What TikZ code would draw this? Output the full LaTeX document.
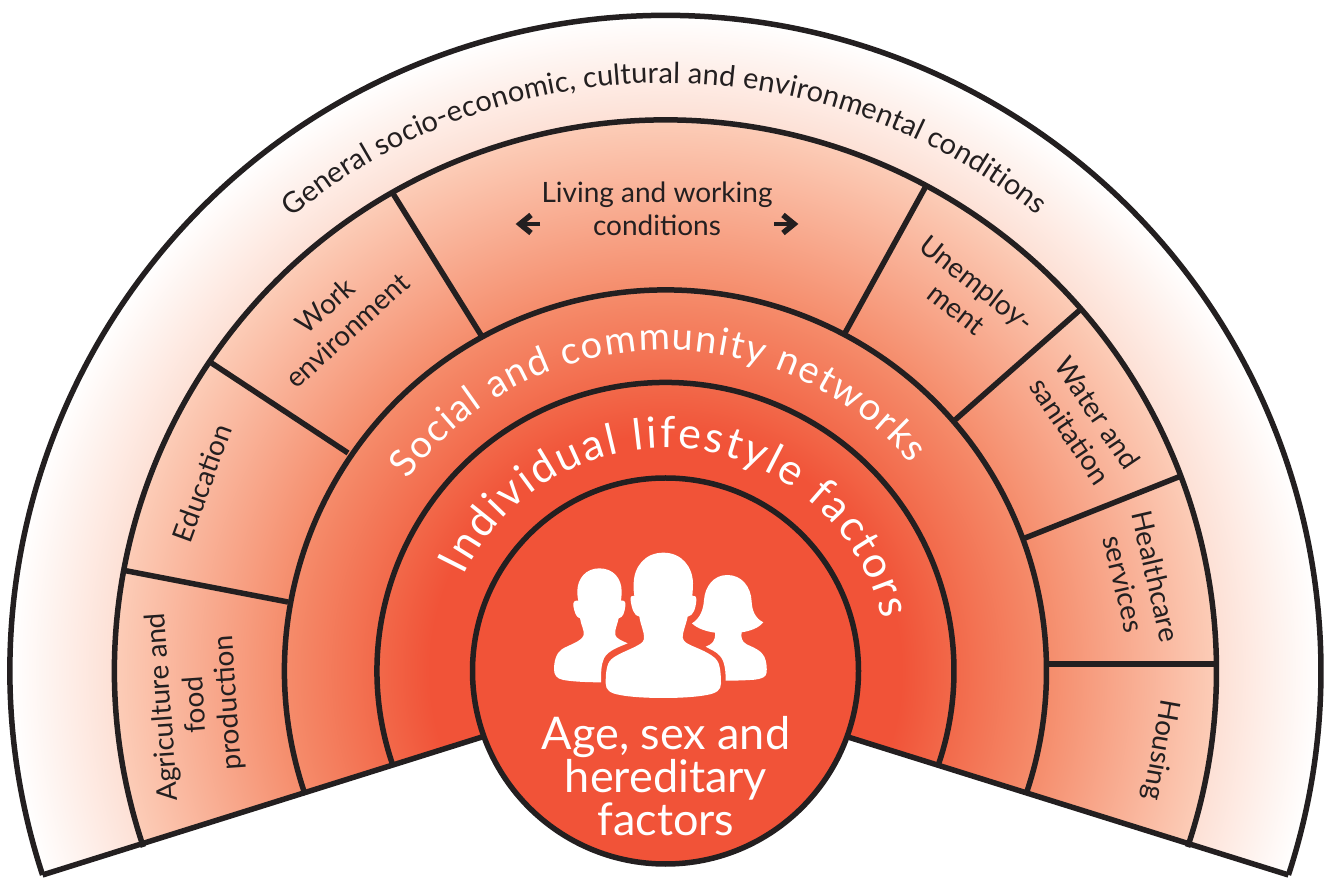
\documentclass[tikz,border=0pt]{standalone}
\usepackage{fontspec}
\setmainfont{Lato}
\usetikzlibrary{decorations.text,calc}
\definecolor{ink}{HTML}{231F20}
\definecolor{core}{HTML}{F15338}
\definecolor{fanA}{HTML}{F2694A}
\definecolor{fanB}{HTML}{F58C6B}
\definecolor{fanC}{HTML}{FCCDB8}
\definecolor{fanD}{HTML}{FDE0D5}
\pgfdeclareradialshading{fan}{\pgfpoint{0bp}{0bp}}{%
 color(0bp)=(core); color(9bp)=(core); color(11bp)=(fanA);
 color(14.52bp)=(fanB);
 color(21.02bp)=(fanC);
 color(21.04bp)=(fanD);
 color(25bp)=(white); color(50bp)=(white)}
\tikzset{
 ring/.style={draw=ink,line width=5.5pt},
 divider/.style={draw=ink,line width=5.5pt},
 cell/.style={text=ink,align=center,font=\fontsize{28}{33}\selectfont,inner sep=0pt},
 arrowshaft/.style={draw=ink,line width=4.5pt},
 arrowhead/.style={draw=ink,line width=5.5pt,miter limit=10},
 person/.style={fill=white,draw=none}
}
\begin{document}
\begin{tikzpicture}[x=1pt,y=1pt]
\useasboundingbox (0,0) rectangle (1330,878);
\coordinate (c) at (665.5,207);
% shaded fan
\begin{scope}
\clip (c) ++(198.13:655.5) arc[start angle=198.13,end angle=-18.13,radius=655.5] -- (850,141) -- (c) -- (480,140) -- cycle;
\shade[shading=fan] (c) circle (655.5);
\end{scope}
% rings
\draw[ring] (c) ++(198.13:655.5) coordinate (ll) arc[start angle=198.13,end angle=-18.13,radius=655.5] coordinate (rl);
\draw[ring] (c) ++(198.63:551) arc[start angle=198.63,end angle=-18.63,radius=551];
\draw[ring] (c) ++(198.99:381) arc[start angle=198.99,end angle=-18.99,radius=381];
\draw[ring] (c) ++(199.43:288.5) arc[start angle=199.43,end angle=-19.43,radius=288.5];
% lower edges
\coordinate (li) at (482,141);
\coordinate (ri) at (848,141);
\draw[ring] (ll) -- (li);
\draw[ring] (rl) -- (ri);
% dividers
\coordinate (d1a) at (122,308); \coordinate (d1b) at (288,276);
\coordinate (d2a) at (210,516); \coordinate (d2b) at (348,425);
\coordinate (d3a) at (392,686); \coordinate (d3b) at (481,543);
\coordinate (d4a) at (926,692); \coordinate (d4b) at (845,545);
\coordinate (d5a) at (1081,569); \coordinate (d5b) at (955,458);
\coordinate (d6a) at (1181,402); \coordinate (d6b) at (1025,340);
\coordinate (d7a) at (1047,214); \coordinate (d7b) at (1217,214);
\foreach \i in {1,...,7} \draw[divider] (d\i a) -- (d\i b);
% core
\node[circle,draw=ink,line width=5.5pt,fill=core,minimum size=386pt,inner sep=0pt] (corecircle) at (c) {};
% people
\begin{scope}[shift={(520,348)},x=0.33333pt,y=-0.33333pt]
\fill[person] (238,115) .. controls (280,115) and (305,145) .. (305,185) .. controls (305,195) and (304,205) .. (303,212) .. controls (312,210) and (318,215) .. (316,228) .. controls (314,245) and (310,263) .. (296,265) .. controls (292,285) and (283,300) .. (286,315) .. controls (288,325) and (305,332) .. (323,340) .. controls (300,350) and (265,360) .. (252,385) .. controls (243,405) and (243,430) .. (243,457) .. controls (200,457) and (160,455) .. (130,450) .. controls (110,446) and (102,435) .. (102,418) .. controls (102,395) and (108,370) .. (125,358) .. controls (145,345) and (185,335) .. (191,315) .. controls (193,300) and (183,285) .. (180,265) .. controls (168,263) and (163,245) .. (160,228) .. controls (158,215) and (165,210) .. (175,212) .. controls (172,200) and (172,190) .. (172,182) .. controls (173,145) and (198,115) .. (238,115) -- cycle;
\fill[person] (622,135) .. controls (665,135) and (693,170) .. (695,215) .. controls (696,240) and (705,265) .. (730,277) .. controls (715,295) and (690,303) .. (665,307) .. controls (662,320) and (665,335) .. (680,343) .. controls (700,352) and (725,362) .. (733,380) .. controls (740,395) and (741,415) .. (740,428) .. controls (738,442) and (725,446) .. (705,449) .. controls (680,451) and (650,452) .. (617,452) .. controls (617,425) and (615,395) .. (600,378) .. controls (590,365) and (570,358) .. (557,350) .. controls (575,343) and (587,335) .. (585,308) .. controls (560,305) and (530,295) .. (516,280) .. controls (540,265) and (550,240) .. (552,210) .. controls (555,170) and (580,135) .. (622,135) -- cycle;
\fill[person] (430,68) .. controls (485,68) and (518,110) .. (519,160) .. controls (519,175) and (518,185) .. (517,197) .. controls (525,195) and (530,200) .. (529,212) .. controls (527,235) and (520,258) .. (503,260) .. controls (498,285) and (488,305) .. (488,322) .. controls (490,335) and (500,340) .. (515,347) .. controls (545,360) and (585,375) .. (595,398) .. controls (602,415) and (603,445) .. (603,460) .. controls (603,480) and (590,490) .. (560,495) .. controls (500,507) and (360,507) .. (300,495) .. controls (270,490) and (257,480) .. (257,460) .. controls (257,440) and (258,410) .. (268,395) .. controls (280,375) and (330,360) .. (355,345) .. controls (368,338) and (373,332) .. (372,320) .. controls (372,305) and (362,285) .. (358,260) .. controls (342,258) and (335,235) .. (332,212) .. controls (330,200) and (335,195) .. (343,197) .. controls (341,185) and (340,175) .. (341,160) .. controls (342,110) and (375,68) .. (430,68) -- cycle;
\end{scope}
% curved text
\path[decorate,decoration={text along path,text align=fit to path,text={|\fontsize{29}{29}\selectfont\color{ink}|General socio-economic, cultural and environmental conditions}}]
 (c) ++(129.5:588) arc[start angle=129.5,end angle=50.9,radius=588];
\path[decorate,decoration={text along path,text align=fit to path,text={|\fontsize{38}{38}\selectfont\color{white}|Social and community networks}}]
 (c) ++(143.5:321) arc[start angle=143.5,end angle=40.2,radius=321];
\path[decorate,decoration={text along path,text align=fit to path,text={|\fontsize{43}{43}\selectfont\color{white}|Individual lifestyle factors}}]
 (c) ++(154.7:223) arc[start angle=154.7,end angle=13.3,radius=223];
% cell labels
\node[cell,rotate=94] (agri) at (196,173) {Agriculture and\\food\\production};
\node[cell,rotate=70] (edu) at (202,395) {Education};
\node[cell,rotate=42] (work) at (336,560) {Work\\environment};
\node[cell] (living) at (657,669) {Living and working\\conditions};
\node[cell,rotate=-38] (unemp) at (967,582) {Unemploy-\\ment};
\node[cell,rotate=-56] (water) at (1084,456) {Water and\\sanitation};
\node[cell,rotate=-77] (health) at (1140,298) {Healthcare\\services};
\node[cell,rotate=-100] (housing) at (1160,128) {Housing};
\node[text=white,align=center,inner sep=0pt,font=\fontsize{45}{43}\selectfont] (age) at (666,102) {Age, sex and\\hereditary\\factors};
% arrows
\coordinate (al1) at (540,654); \coordinate (al2) at (520,654);
\coordinate (ar1) at (774,654); \coordinate (ar2) at (794,654);
\draw[arrowshaft] (al1) -- (al2);
\draw[arrowhead] ($(al2)+(11,9)$) -- (al2) -- ($(al2)+(11,-9)$);
\draw[arrowshaft] (ar1) -- (ar2);
\draw[arrowhead] ($(ar2)+(-11,9)$) -- (ar2) -- ($(ar2)+(-11,-9)$);
\end{tikzpicture}
\end{document}
